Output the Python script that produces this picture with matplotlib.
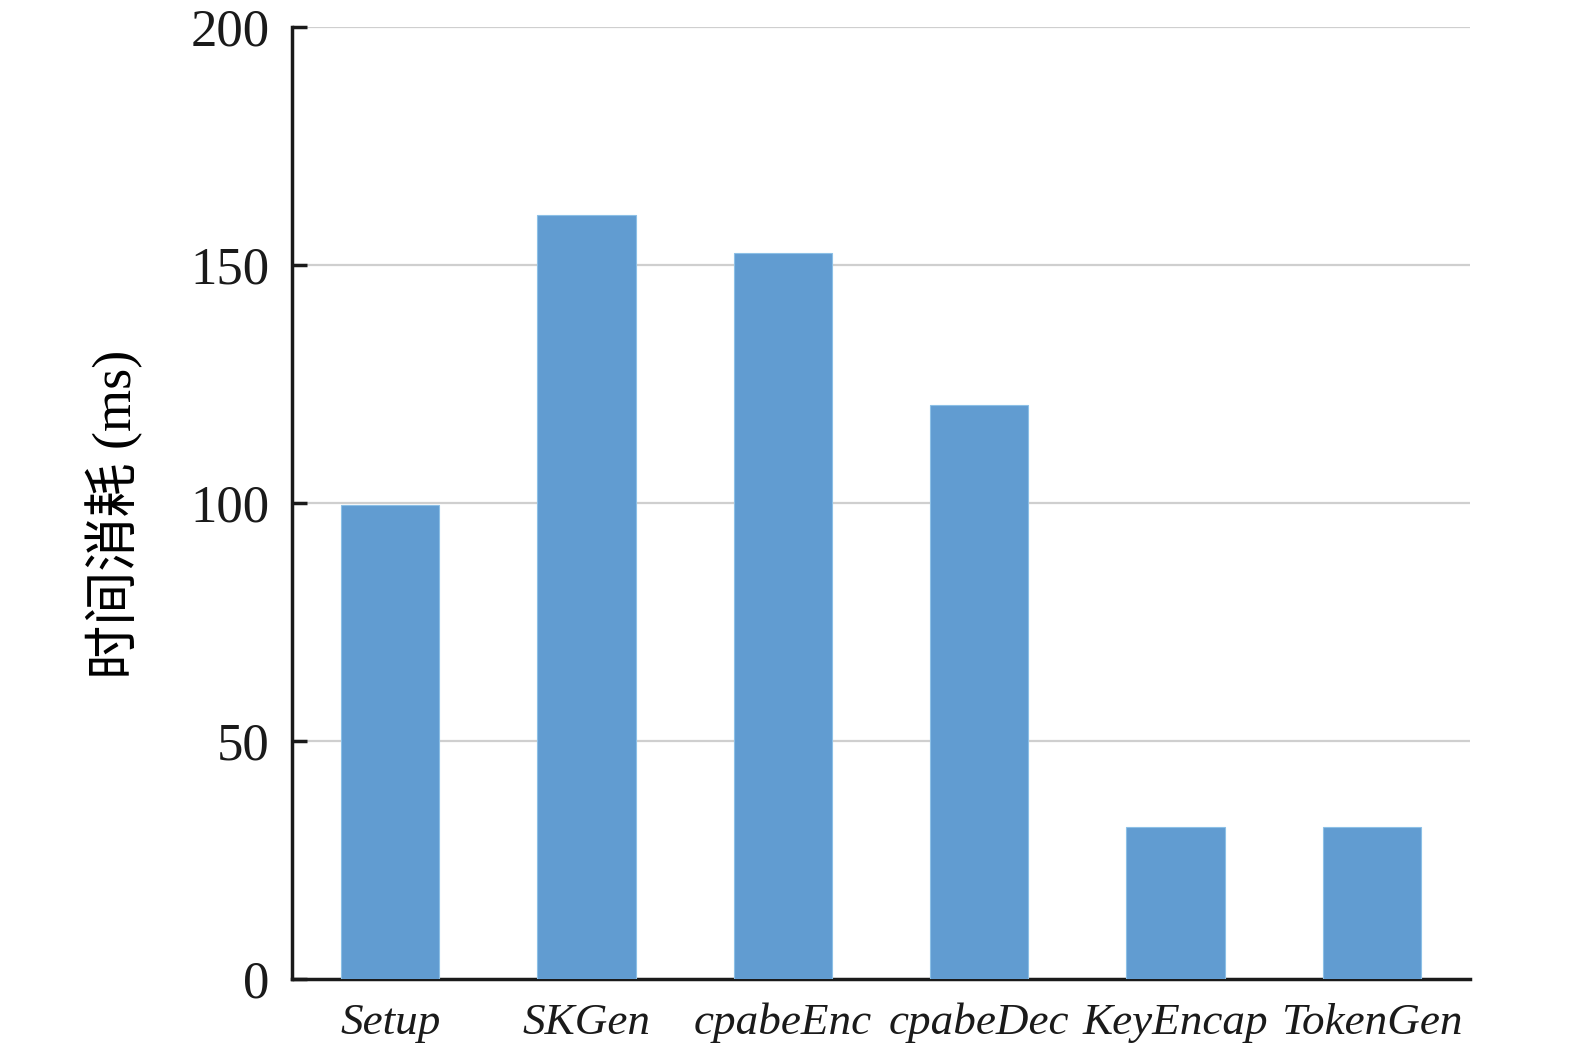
import matplotlib
matplotlib.use("Agg")
import matplotlib.pyplot as plt

categories = ["Setup", "SKGen", "cpabeEnc", "cpabeDec", "KeyEncap", "TokenGen"]
values = [99.5, 160.5, 152.5, 120.5, 32, 32]
yticks = [0, 50, 100, 150, 200]
ylabel = "时间消耗 (ms)"

plt.rcParams['font.family'] = ['Liberation Serif', 'Noto Sans CJK SC']

fig = plt.figure(figsize=(15.75, 10.53), dpi=100)
ax = fig.add_axes([292/1575, 1-979/1053, (1470-292)/1575, (979-27)/1053])

x = list(range(len(categories)))
ax.bar(x, values, width=0.5, color='#619CD1', edgecolor='#8CC0E6', linewidth=0.8, zorder=3)

ax.set_xlim(-0.5, len(categories) - 0.5)
ax.set_ylim(0, 200)
ax.set_yticks(yticks)
ax.set_yticklabels([str(v) for v in yticks], fontsize=38)
ax.set_xticks(x)
ax.set_xticklabels(categories, fontsize=32.5, style='italic')
ax.tick_params(axis='y', direction='in', length=11, width=2.5, pad=16, colors='#1a1a1a')
ax.tick_params(axis='x', length=0, pad=17, colors='#1a1a1a')

for v in yticks[1:]:
    ax.axhline(v, color='#cfcfcf', linewidth=1.6, zorder=1)

for s in ['top', 'right']:
    ax.spines[s].set_visible(False)
for s in ['left', 'bottom']:
    ax.spines[s].set_linewidth(2.5)
    ax.spines[s].set_color('#1a1a1a')

ax.set_ylabel(ylabel, fontsize=39)
ax.yaxis.set_label_coords(-0.126, 0.488)

fig.savefig("out.png", dpi=100)
